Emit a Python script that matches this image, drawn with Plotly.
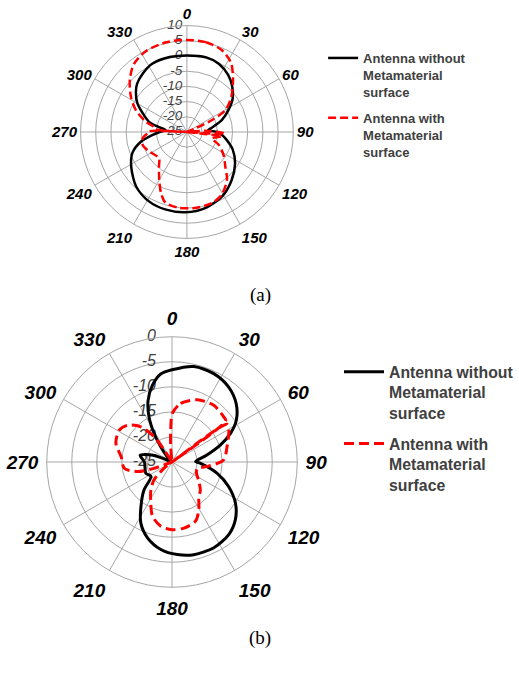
import plotly.graph_objects as go

# ---------------- data : chart (a) ----------------
theta_a_without = [0, 14, 25, 36, 45, 54, 62, 71, 80, 85, 90, 95, 100, 111, 123, 137, 151, 166,
                   181, 195, 209, 223, 238, 249, 258, 265, 270, 275, 280, 285, 293, 300, 308,
                   314, 323, 333, 347, 360]
r_a_without = [0.2, 0.4, -0.2, -1.85, -3.9, -6.4, -9.5, -12.8, -16.6, -18, -15, -13.4, -12, -8.85,
               -6.1, -3.4, -0.9, 0.7, 1.4, 1.45, 1.0, -0.5, -3.4, -5.8, -9.5, -13.6, -16, -18,
               -15.5, -12.1, -9.2, -6.2, -3.7, -2.2, -0.9, 0.2, 0.3, 0.2]

theta_a_with = [0, 12, 23, 32.5, 41.5, 51.7, 60.4, 64.6, 67, 72, 80, 86, 91, 93, 95, 97, 104,
                112, 122, 132, 140, 151, 160, 173, 186, 197, 203, 210, 219, 227, 243, 254, 262,
                268, 271, 273, 275, 280, 284, 293, 302, 312, 322, 333, 347, 360]
r_a_with = [5.3, 5.2, 4.3, 2.0, -2.1, -6.4, -10.4, -15.8, -21.9, -25, -25, -19, -13.5, -12.5, -25,
            -13.4, -16.5, -13.7, -10.8, -8.0, -4.5, -1.4, -0.25, 0.1, 0.1, -0.7, -3.2, -6.8, -10.4,
            -12.4, -11.0, -9.8, -10.3, -12.0, -12.5, -25, -14.5, -13.5, -11.1, -6.8, -3.3, 0.3,
            3.35, 4.8, 5.3, 5.3]

# ---------------- data : chart (b) ----------------
theta_b_without = [0, 12.9, 25.3, 37.1, 47.8, 57, 63.9, 70.8, 78.8, 89, 92.6, 104, 113.4, 123,
                   132.3, 142, 154, 166.7, 176.7, 187.3, 197.9, 207, 215, 225, 235.4, 246.7, 258,
                   270, 282, 290, 298, 312, 318, 323.6, 327.9, 333, 338.8, 345.7, 352.7, 360]
r_b_without = [-6.6, -5.45, -5.5, -6.25, -7.7, -9.7, -12.0, -14.8, -17.9, -20.3, -19.3, -15.7,
               -12.7, -9.9, -7.9, -6.6, -5.95, -6.0, -6.5, -7.4, -9.1, -11.3, -14.2, -17.1, -19.9,
               -19.3, -19.5, -19.5, -18.5, -21, -25, -25, -23.6, -21.2, -18.3, -14.9, -11.8, -9.2,
               -7.3, -6.6]

theta_b_with = [0.4, 8.4, 22, 36.4, 48.9, 52.5, 54, 55.5, 60.7, 74.5, 87.8, 96, 105, 115, 125,
                135, 142, 150.6, 158.3, 169.7, 180, 189.9, 199.8, 209.3, 217, 225, 232, 238, 245,
                250.7, 254.4, 262.5, 275.9, 288.4, 301, 309.6, 318.4, 324.6, 327, 332, 350, 355,
                357.7, 360.4]
r_b_with = [-15.3, -13.2, -11.6, -10.95, -11.3, -11.5, -25, -11.7, -12.0, -13.6, -14.7, -17.5,
            -19.8, -19.6, -18.5, -17.0, -16.3, -14.1, -12.3, -11.6, -11.5, -12.0, -13.5, -16.3,
            -18, -19.9, -23, -25, -25, -21.2, -17.9, -15.4, -14.8, -13.2, -12.7, -13.5, -15.6,
            -18.8, -22, -25, -25, -22, -18.65, -15.3]

angle_ticks = list(range(0, 360, 30))
angle_labels = [str(a) for a in angle_ticks]
radial_ticks_a = [-25, -20, -15, -10, -5, 0, 5, 10]
radial_ticks_b = [-25, -20, -15, -10, -5, 0]
legend_names = ["Antenna without<br>Metamaterial<br>surface",
                "Antenna with<br>Metamaterial<br>surface"]
captions = ["(a)", "(b)"]

W, H = 519, 673
FONT = "Liberation Sans"
GRID = "#a6a6a6"


def dom(cx, cy, R):
    return dict(x=[(cx - R) / W, (cx + R) / W], y=[(H - cy - R) / H, (H - cy + R) / H])


def polar_cfg(domain, rng, ang_size, tick_pad):
    return dict(
        domain=domain,
        bgcolor="white",
        angularaxis=dict(rotation=90, direction="clockwise", tickmode="array",
                         tickvals=angle_ticks, ticktext=angle_labels, showgrid=True,
                         gridcolor=GRID, gridwidth=1, showline=True, linecolor=GRID,
                         linewidth=1, ticks="outside", ticklen=tick_pad,
                         tickcolor="rgba(0,0,0,0)",
                         tickfont=dict(family=FONT, size=ang_size, color="black",
                                       weight="bold", style="italic")),
        radialaxis=dict(range=rng, dtick=5, angle=90, showticklabels=False,
                        showline=False, ticks="", gridcolor=GRID, gridwidth=1),
    )


def radial_labels(ticks, subplot, size, gap):
    return go.Scatterpolar(r=ticks, theta=[0] * len(ticks), mode="markers+text",
                           marker=dict(size=gap, color="rgba(0,0,0,0)"),
                           text=[str(t) for t in ticks], textposition="middle left",
                           textfont=dict(family=FONT, size=size, color="#404040",
                                         style="italic"),
                           subplot=subplot, showlegend=False, hoverinfo="skip")


fig = go.Figure()
fig.add_trace(radial_labels(radial_ticks_a, "polar", 13.5, 6))
fig.add_trace(go.Scatterpolar(theta=theta_a_without, r=r_a_without, mode="lines",
                              line=dict(color="black", width=2.5, shape="spline", smoothing=0.8),
                              name=legend_names[0], subplot="polar", legend="legend",
                              legendgroup="a1"))
fig.add_trace(go.Scatterpolar(theta=theta_a_with, r=r_a_with, mode="lines",
                              line=dict(color="red", width=2.5, dash="8px,4px", shape="spline",
                                        smoothing=0.8),
                              name=legend_names[1], subplot="polar", legend="legend",
                              legendgroup="a2"))
fig.add_trace(radial_labels(radial_ticks_b, "polar2", 16, 24))
fig.add_trace(go.Scatterpolar(theta=theta_b_without, r=r_b_without, mode="lines",
                              line=dict(color="black", width=3, shape="spline", smoothing=0.8),
                              name=legend_names[0], subplot="polar2", legend="legend2",
                              legendgroup="b1"))
fig.add_trace(go.Scatterpolar(theta=theta_b_with, r=r_b_with, mode="lines",
                              line=dict(color="red", width=3, dash="10px,5px", shape="spline",
                                        smoothing=0.8),
                              name=legend_names[1], subplot="polar2", legend="legend2",
                              legendgroup="b2"))

fig.update_layout(
    width=W, height=H,
    margin=dict(l=0, r=0, t=0, b=0),
    paper_bgcolor="white",
    polar=polar_cfg(dom(188, 132, 107), [-25, 10], 15, 0),
    polar2=polar_cfg(dom(173, 462, 126), [-25, 0], 19, 4),
    legend=dict(x=325 / W, y=1 - 43 / H, xanchor="left", yanchor="top",
                font=dict(family=FONT, size=13, color="#404040", weight="bold"),
                bgcolor="rgba(0,0,0,0)", traceorder="grouped", tracegroupgap=6,
                valign="top", itemwidth=30),
    legend2=dict(x=341 / W, y=1 - 355 / H, xanchor="left", yanchor="top",
                 font=dict(family=FONT, size=15.8, color="#404040", weight="bold"),
                 bgcolor="rgba(0,0,0,0)", traceorder="grouped", tracegroupgap=7,
                 valign="top", itemwidth=40),
    annotations=[
        dict(text=captions[0], x=262 / W, y=1 - 295 / H, xref="paper", yref="paper",
             showarrow=False, font=dict(family="Liberation Serif", size=19, color="black")),
        dict(text=captions[1], x=262 / W, y=1 - 651 / H, xref="paper", yref="paper",
             showarrow=False, font=dict(family="Liberation Serif", size=19, color="black")),
    ],
)

fig.write_html("out.html", config={"displayModeBar": False},
               post_script="document.body.style.margin='0';document.body.style.overflow='hidden';")
